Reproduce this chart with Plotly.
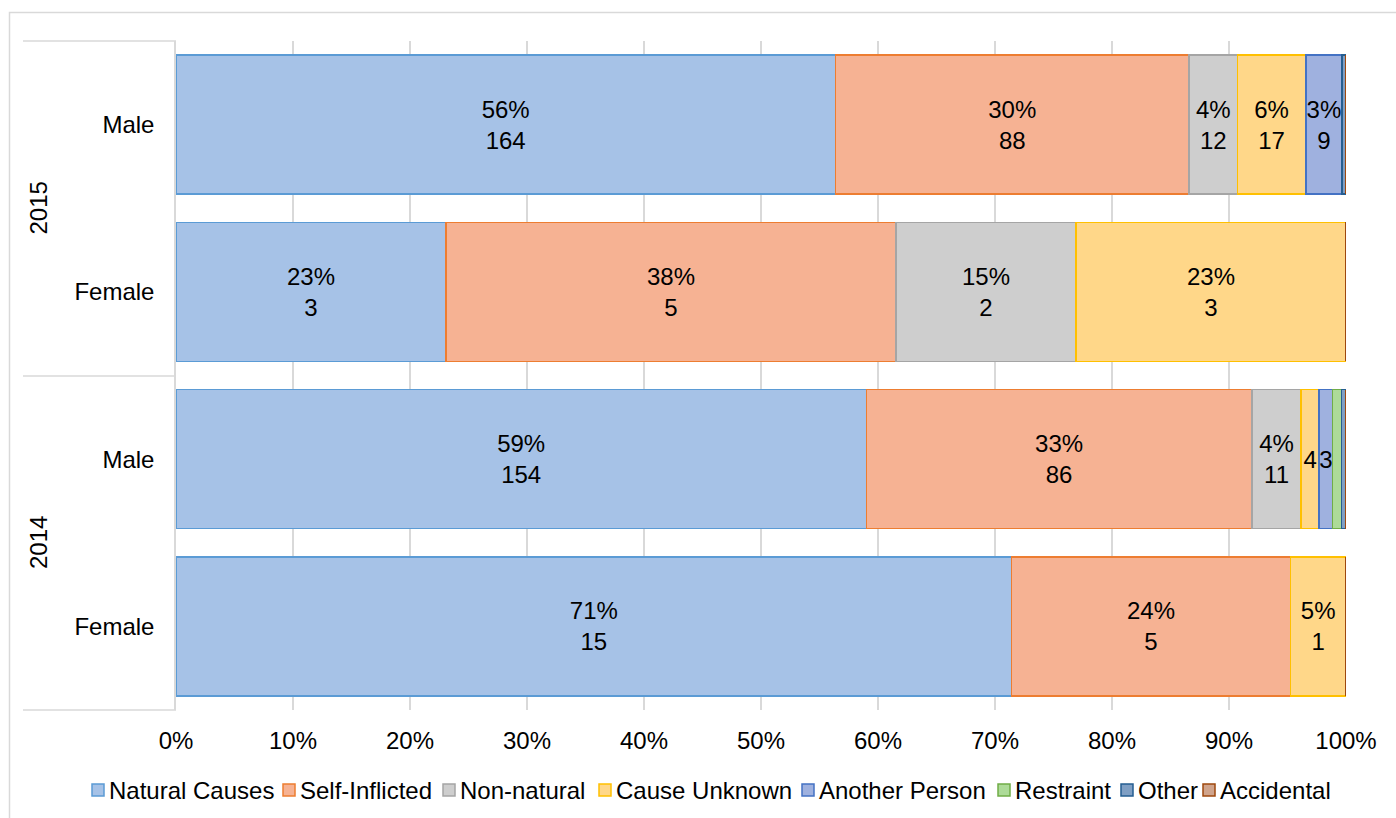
import plotly.graph_objects as go

# ---- data ----
years = ["2015", "2015", "2014", "2014"]
sexes = ["Male", "Female", "Male", "Female"]
causes = ["Natural Causes", "Self-Inflicted", "Non-natural", "Cause Unknown",
          "Another Person", "Restraint", "Other", "Accidental"]
natural_causes = [164, 3, 154, 15]
self_inflicted = [88, 5, 86, 5]
non_natural = [12, 2, 11, 0]
cause_unknown = [17, 3, 4, 1]
another_person = [9, 0, 3, 0]
restraint = [0, 0, 2, 0]
other = [1, 0, 1, 0]
accidental = [0, 0, 0, 0]
x_ticks = [0, 10, 20, 30, 40, 50, 60, 70, 80, 90, 100]
x_tick_labels = [f"{v}%" for v in x_ticks]

series = [natural_causes, self_inflicted, non_natural, cause_unknown,
          another_person, restraint, other, accidental]
fills = ["#a6c2e7", "#f6b293", "#cecece", "#ffd789", "#9fb1df", "#addb98", "#7f9fc4", "#d0a48c"]
borders = ["#5b9bd5", "#ed7d31", "#a5a5a5", "#ffc000", "#4472c4", "#70ad47", "#255e91", "#9e480e"]

keys = [f"{y}|{s}" for y, s in zip(years, sexes)]
totals = [sum(s[i] for s in series) for i in range(len(keys))]

FONT = "Liberation Sans, Arial, sans-serif"
FS = 24

fig = go.Figure()
for name, vals, fc, bc in zip(causes, series, fills, borders):
    pcts = [v / t * 100 for v, t in zip(vals, totals)]
    texts = []
    for v, p in zip(vals, pcts):
        if v == 0 or p < 1:
            texts.append("")
        elif p < 3:
            texts.append(f"{v}")
        else:
            texts.append(f"{round(p)}%<br>{v}")
    fig.add_trace(go.Bar(
        y=keys, x=pcts, name=name, orientation="h",
        marker=dict(color=fc, line=dict(color=bc, width=1.5)),
        text=texts, textposition="inside", insidetextanchor="middle",
        textangle=0, constraintext="none",
        textfont=dict(family=FONT, size=FS, color="#000000"),
        showlegend=False,
        customdata=vals,
        hovertemplate="%{y}<br>" + name + ": %{customdata} (%{x:.1f}%)<extra></extra>",
    ))

W, H = 1396, 818
L, R, T, B = 176, 50, 41, 108
pw, ph = W - L - R, H - T - B

def px(x):
    return (x - L) / pw

def py(y):
    return (H - B - y) / ph

shapes = []
# chart border
shapes.append(dict(type="rect", xref="paper", yref="paper",
                   x0=px(9.5), x1=px(1410), y0=py(12.5), y1=py(830),
                   line=dict(color="#d9d9d9", width=1.5), fillcolor="rgba(0,0,0,0)", layer="below"))
# category group dividers
for yy in [41, 376, 710]:
    shapes.append(dict(type="line", xref="paper", yref="paper",
                       x0=px(23), x1=px(176), y0=py(yy), y1=py(yy),
                       line=dict(color="#d9d9d9", width=1.5)))

annotations = []
for yr, yc in [("2015", 208.5), ("2014", 543)]:
    annotations.append(dict(text=yr, xref="paper", yref="paper", x=px(38), y=py(yc),
                            xanchor="center", yanchor="middle",
                            showarrow=False, textangle=-90,
                            font=dict(family=FONT, size=FS, color="#000000")))

# custom legend (Excel style, tight spacing)
sym_left = [92, 283, 443, 599, 802, 998, 1121, 1203]
for name, fc, bc, sx in zip(causes, fills, borders, sym_left):
    shapes.append(dict(type="rect", xref="paper", yref="paper",
                       x0=px(sx), x1=px(sx + 12), y0=py(784), y1=py(796),
                       fillcolor=fc, line=dict(color=bc, width=1.5)))
    annotations.append(dict(text=name, xref="paper", yref="paper", x=px(sx + 15), y=py(790),
                            xanchor="left", yanchor="middle", showarrow=False,
                            font=dict(family=FONT, size=FS, color="#000000")))

fig.update_layout(
    width=W, height=H,
    margin=dict(l=L, r=R, t=T, b=B, pad=0),
    barmode="stack", bargap=0.169,
    plot_bgcolor="white", paper_bgcolor="white",
    font=dict(family=FONT, size=FS, color="#000000"),
    xaxis=dict(range=[0, 100], tickmode="array", tickvals=x_ticks, ticktext=x_tick_labels,
               showgrid=True, gridcolor="#d9d9d9", gridwidth=1.5,
               zeroline=False, showline=False, ticks="",
               ticklabelstandoff=14, fixedrange=True,
               tickfont=dict(family=FONT, size=FS, color="#000000")),
    yaxis=dict(categoryorder="array", categoryarray=keys, autorange="reversed",
               tickmode="array", tickvals=keys, ticktext=sexes,
               showgrid=False, showline=True, linecolor="#d9d9d9", linewidth=1.5,
               ticks="", ticklabelstandoff=15, fixedrange=True,
               tickfont=dict(family=FONT, size=FS, color="#000000")),
    shapes=shapes, annotations=annotations,
    showlegend=False,
)

fig.write_html("out.html")
